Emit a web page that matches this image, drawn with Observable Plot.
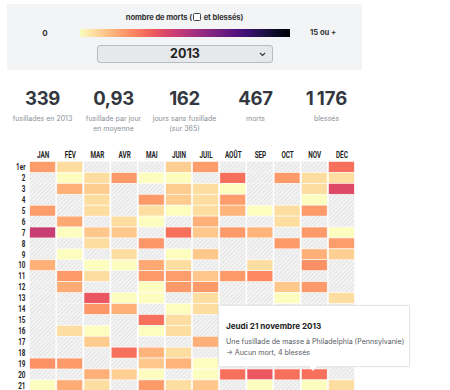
<!DOCTYPE html>
<html><head><meta charset="utf-8">
<script src="https://cdn.jsdelivr.net/npm/d3@7"></script>
<script src="https://cdn.jsdelivr.net/npm/@observablehq/plot@0.6"></script>
<style>
html,body{margin:0;padding:0;}
body{width:450px;height:390px;overflow:hidden;background:#fff;position:relative;font-family:"Inter","Roboto",sans-serif;color:#2b2f36;}
#panel{position:absolute;left:7px;top:4px;width:355px;height:66px;background:#f3f4f6;}
#ltitle{position:absolute;left:0;width:355px;top:9px;text-align:center;font-size:7.6px;font-weight:700;color:#333;letter-spacing:-0.1px;}
.cb{display:inline-block;width:6px;height:6px;border:1px solid #444;border-radius:1.5px;vertical-align:-1px;margin:0 1px;background:#fff;}
#l0{position:absolute;left:35px;top:24px;width:6px;font-size:8px;font-weight:700;color:#333;text-align:center;}
#bar{position:absolute;left:73px;top:25px;width:210px;height:8px;}
#l15{position:absolute;left:303px;top:24px;font-size:7.6px;font-weight:700;color:#333;}
#sel{position:absolute;left:90px;top:41px;width:174px;height:16px;background:#e7e8eb;border:1px solid #b8bbc1;border-radius:3px;text-align:center;font-size:12.5px;font-weight:700;line-height:16px;color:#222;}
#sel svg{position:absolute;right:6px;top:6px;}
#stats{position:absolute;left:7px;top:89px;display:flex;}
.st{width:71px;text-align:center;}
.st .n{font-size:18.5px;font-weight:700;color:#333840;line-height:19px;letter-spacing:-0.3px;}
.st .t{font-size:7px;color:#8b9099;line-height:9.5px;margin-top:6px;}
#chart{position:absolute;left:0;top:145px;width:450px;height:245px;overflow:hidden;}
#tip{position:absolute;left:218px;top:305px;width:192px;height:62px;background:#fff;border:1px solid #e5e6e8;box-sizing:border-box;box-shadow:0 0 2px rgba(0,0,0,0.05);}
#tip .h{position:absolute;left:7px;top:15px;font-size:8.1px;font-weight:700;color:#222;white-space:nowrap;}
#tip .b{position:absolute;left:7px;top:31px;font-size:7.1px;color:#555a62;line-height:10.5px;white-space:nowrap;}
#arrow{position:absolute;left:309px;top:366px;width:0;height:0;border-left:4.5px solid transparent;border-right:4.5px solid transparent;border-top:5px solid #fff;}
</style></head>
<body>
<svg width="0" height="0" style="position:absolute"><defs>
<pattern id="hatch" width="3" height="3" patternUnits="userSpaceOnUse" patternTransform="rotate(45)">
<rect width="3" height="3" fill="#f5f5f5"/><line x1="0.6" y1="0" x2="0.6" y2="3" stroke="#e2e2e2" stroke-width="1.1"/>
</pattern></defs></svg>
<div id="panel">
  <div id="ltitle">nombre de morts (<span class="cb"></span> et blessés)</div>
  <div id="l0">0</div>
  <div id="bar"></div>
  <div id="l15">15 ou +</div>
  <div id="sel">2013<svg width="7" height="5" viewBox="0 0 7 5"><path d="M1 1 L3.5 3.5 L6 1" fill="none" stroke="#333" stroke-width="1.1"/></svg></div>
</div>
<div id="stats"></div>
<div id="chart"></div>
<div id="tip"><div class="h">Jeudi 21 novembre 2013</div><div class="b">Une fusillade de masse à Philadelphia (Pennsylvanie)<br>→ Aucun mort, 4 blessés</div></div>
<div id="arrow"></div>
<script>
// ---- data ----
const months = ["JAN","FÉV","MAR","AVR","MAI","JUIN","JUIL","AOÛT","SEP","OCT","NOV","DÉC"];
const year = 2013;
const visibleDays = d3.range(1,22);
const statValues = ["339","0,93","162","467","1\u202f176"];
const statLabels = ["fusillades en 2013","fusillade par jour<br>en moyenne","jours sans fusillade<br>(sur 365)","morts","blessés"];
// deaths per day, days 1..21 (null = no shooting / not readable)
const n = null;
const jan  = [3.1,n,n,n,3.1,n,6.8,n,n,2.5,n,n,n,n,n,n,n,n,3.4,n,0];
const fev  = [1,0,2.5,n,n,2.7,0,n,0,n,3.2,2.6,n,n,n,1,n,n,3.2,n,2.6];
const mar  = [n,1,1.6,1,1,n,1.7,1,n,0,1,n,5.4,3.3,n,0,1.6,n,n,2.5,1];
const avr  = [n,3.2,n,n,n,1,1.7,n,1,0,n,n,0,2.5,n,n,n,4.5,n,1.5,n];
const mai  = [n,0,n,3.2,1,0,n,3.3,n,2.7,3.2,0,0,n,4.5,0,n,2.4,1.7,0,3.2];
const juin = [1.5,0,1.6,1.6,0,n,4.5,n,0,1,3.1,3.2,n,0,1,1,n,1,2.4,n,1];
const juil = [3.1,n,1,1,1,2.5,1.7,n,1.7,n,1.7,3.2,1,1,n,n,2.5,n,0,0,1.7];
const aout = [n,4.5,0,3.1,2.4,n,3.2,n,n,n,3.2,n,n,n,n,n,n,n,n,4.5,n];
const sep  = [n,n,n,n,0,n,2.4,n,n,1,3.7,n,n,n,n,n,n,n,n,5.3,0];
const oct  = [n,3.2,n,n,1,1,n,3.2,n,n,n,1.7,0,n,n,n,n,n,n,4.5,n];
const nov  = [n,1,1,0,3.2,n,3.2,n,2.5,3.5,n,3.2,n,n,n,n,n,n,n,4.5,0];
const dec  = [4.5,1,6,n,n,n,0,3.1,1.5,n,n,n,1,n,n,n,n,n,n,n,1];
const monthValues = [jan,fev,mar,avr,mai,juin,juil,aout,sep,oct,nov,dec];

// ---- build tables ----
const cells = [];
monthValues.forEach((arr,m)=>arr.forEach((v,i)=>{ if(v!=null) cells.push({month:months[m],day:i+1,deaths:v}); }));
const days = [];
months.forEach((mo,m)=>{ for(let d=1;d<=31;d++){ const dt=new Date(year,m,d); if(dt.getMonth()===m) days.push({month:mo,day:d}); } });

const colorOpts = {type:"linear",scheme:"magma",reverse:true,domain:[0,15],clamp:true};

document.getElementById("stats").innerHTML = statValues.map((v,i)=>`<div class="st"><div class="n">${v}</div><div class="t">${statLabels[i]}</div></div>`).join("");

const sc = Plot.scale({color:colorOpts});
const stops = d3.range(0,16).map(v=>`${sc.apply(v)} ${(v/15*100).toFixed(1)}%`).join(",");
document.getElementById("bar").style.background = `linear-gradient(to right, ${stops})`;

const chart = Plot.plot({
  width:450, height:355,
  marginLeft:29, marginRight:95, marginTop:16.5, marginBottom:0,
  style:{fontFamily:'"Roboto","Liberation Sans",sans-serif', fontSize:"8.6px", fontWeight:700, color:"#1e1e1e", background:"transparent"},
  x:{domain:months, axis:"top", padding:0, round:false, tickSize:0, tickPadding:4, label:null},
  y:{domain:d3.range(1,32), ticks:visibleDays, padding:0, round:false, tickSize:0, tickPadding:4, label:null, tickFormat:d=>d===1?"1er":String(d)},
  color:colorOpts,
  marks:[
    Plot.cell(days,{x:"month",y:"day",fill:"url(#hatch)",insetLeft:0.65,insetRight:0.65}),
    Plot.cell(cells,{x:"month",y:"day",fill:"deaths",stroke:"white",strokeWidth:0.6,insetLeft:0.65,insetRight:0.65})
  ]
});
chart.querySelectorAll('g[aria-label="x-axis tick label"] text, g[aria-label="y-axis tick label"] text').forEach(t=>{
  const tr = t.getAttribute("transform") || "";
  t.setAttribute("transform", tr + " scale(0.74,1)");
});
document.getElementById("chart").appendChild(chart);
</script>
</body></html>
